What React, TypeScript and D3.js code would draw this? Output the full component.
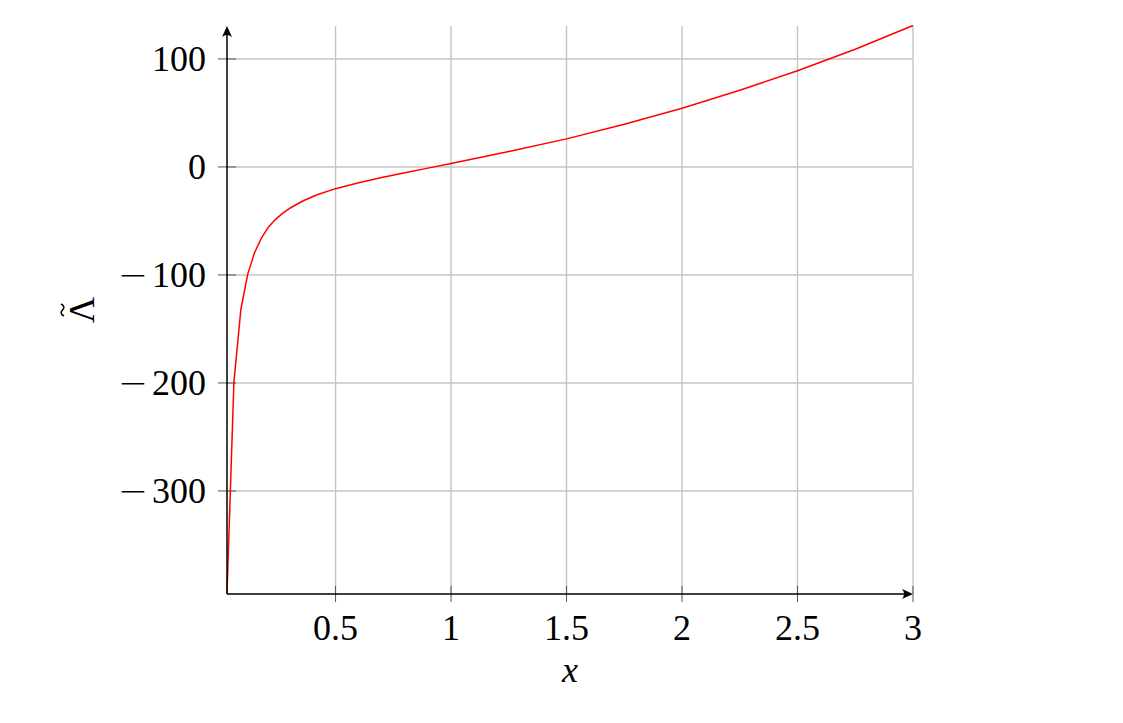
import React from "react";
import * as d3 from "d3";

const xTicks = [0.5, 1, 1.5, 2, 2.5, 3];
const xTickLabels = ["0.5", "1", "1.5", "2", "2.5", "3"];
const yTicks = [-300, -200, -100, 0, 100];
const yTickLabels = ["\u2212300", "\u2212200", "\u2212100", "0", "100"];

const curveX = [0.03, 0.06, 0.09, 0.12, 0.15, 0.18, 0.21, 0.24, 0.27, 0.3, 0.36, 0.42, 0.5, 0.6, 0.7, 0.8, 0.9, 1.0, 1.25, 1.5, 1.75, 2.0, 2.25, 2.5, 2.75, 3.0];
const curveY = [-395, -199, -132, -99, -79, -65.5, -55.5, -48.5, -43, -38.5, -31.3, -25.8, -20.1, -14.6, -9.8, -5.4, -1.1, 3.2, 14.3, 26, 39.5, 54.3, 71, 89, 109, 131];

const X_MIN = 0.03;
const X_MAX = 3;
const Y_MIN = -395.4;
const Y_MAX = 130.5;

export default function App() {
  const W = 1123;
  const H = 723;
  const left = 227;
  const right = 913;
  const top = 26;
  const bottom = 594;
  const x = d3.scaleLinear().domain([X_MIN, X_MAX]).range([left, right]);
  const y = d3.scaleLinear().domain([Y_MIN, Y_MAX]).range([bottom, top]);
  const pts: [number, number][] = curveX.map((v, i) => [v, curveY[i]]);
  const line = d3
    .line<[number, number]>()
    .x((d) => x(d[0]))
    .y((d) => y(d[1]))
    .curve(d3.curveLinear);
  const font = "'Liberation Serif', 'Times New Roman', serif";
  const fs = 36;
  const cy = (top + bottom) / 2;
  return (
    <svg
      width={W}
      height={H}
      style={{ position: "absolute", left: 0, top: 0 }}
      viewBox={`0 0 ${W} ${H}`}
    >
      <rect x={0} y={0} width={W} height={H} fill="#fff" />
      {/* grid */}
      {xTicks.map((t) => (
        <line key={"gx" + t} x1={x(t)} x2={x(t)} y1={bottom} y2={top} stroke="#c4c4c4" strokeWidth={1.4} />
      ))}
      {yTicks.map((t) => (
        <line key={"gy" + t} x1={left} x2={right} y1={y(t)} y2={y(t)} stroke="#c4c4c4" strokeWidth={1.4} />
      ))}
      {/* ticks */}
      {xTicks.map((t) => (
        <line key={"tx" + t} x1={x(t)} x2={x(t)} y1={bottom - 8} y2={bottom + 8} stroke="#555" strokeWidth={1} />
      ))}
      {yTicks.map((t) => (
        <line key={"ty" + t} x1={left - 9} x2={left + 9} y1={y(t)} y2={y(t)} stroke="#555" strokeWidth={1} />
      ))}
      {/* curve */}
      <path d={line(pts) || ""} fill="none" stroke="#ff0000" strokeWidth={1.5} strokeLinejoin="round" />
      {/* axes */}
      <line x1={left} x2={right - 2} y1={bottom} y2={bottom} stroke="#000" strokeWidth={1.5} />
      <line x1={left} x2={left} y1={bottom} y2={top + 2} stroke="#000" strokeWidth={1.5} />
      <path d={`M${right},${bottom} L${right - 11},${bottom - 5} Q${right - 7},${bottom} ${right - 11},${bottom + 5} Z`} fill="#000" />
      <path d={`M${left},${top} L${left - 5},${top + 11} Q${left},${top + 7} ${left + 5},${top + 11} Z`} fill="#000" />
      {/* tick labels */}
      {xTicks.map((t, i) => (
        <text key={"lx" + t} x={x(t)} y={bottom + 46} fontFamily={font} fontSize={fs} textAnchor="middle">
          {xTickLabels[i]}
        </text>
      ))}
      {yTicks.map((t, i) => {
        const lab = yTickLabels[i];
        const neg = lab.startsWith("\u2212");
        return (
          <text key={"ly" + t} x={left - 21} y={y(t) + 12} fontFamily={font} fontSize={fs} textAnchor="end">
            {neg ? (
              <>
                <tspan fontFamily="'DejaVu Sans', sans-serif" fontWeight={300} dx={0}>
                  {"\u2212"}
                </tspan>
                <tspan dx={4}>{lab.slice(1)}</tspan>
              </>
            ) : (
              lab
            )}
          </text>
        );
      })}
      {/* axis labels */}
      <text x={(left + right) / 2} y={682} fontFamily={font} fontSize={fs} fontStyle="italic" textAnchor="middle">
        x
      </text>
      <g transform={`translate(${94},${cy}) rotate(-90)`}>
        <text x={0} y={0} fontFamily={font} fontSize={fs} textAnchor="middle">
          {"\u039B"}
        </text>
        <path
          d="M -6,-30 C -4.5,-33.5 -2,-33.5 0,-31.5 C 2,-29.5 4.5,-29.5 6,-33"
          fill="none"
          stroke="#000"
          strokeWidth={1.6}
        />
      </g>
    </svg>
  );
}
